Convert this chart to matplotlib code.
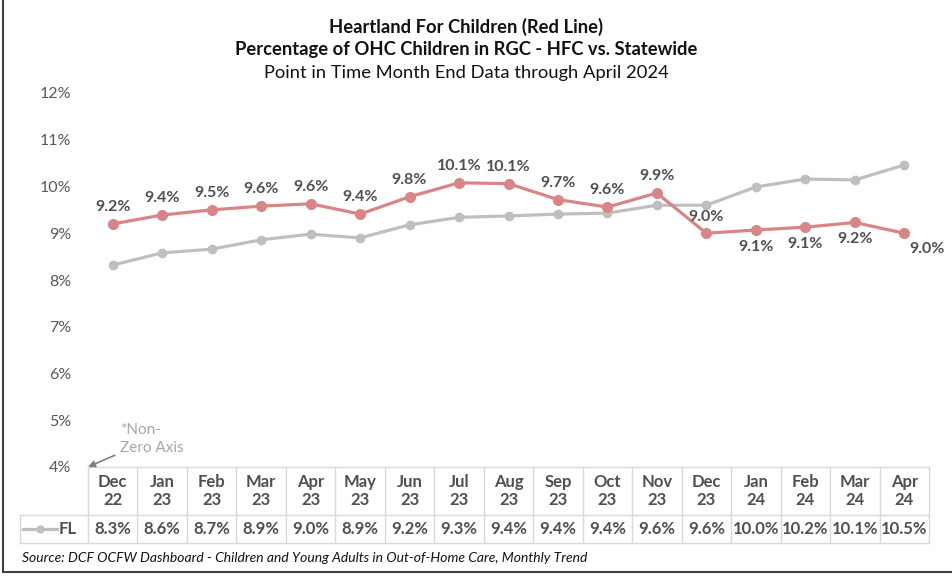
import matplotlib
matplotlib.use("Agg")
import matplotlib.pyplot as plt
from matplotlib.transforms import blended_transform_factory
from matplotlib.lines import Line2D

plt.rcParams["font.family"] = ["Lato", "DejaVu Sans"]

# ---- data ----
months = ["Dec\n22", "Jan\n23", "Feb\n23", "Mar\n23", "Apr\n23", "May\n23", "Jun\n23",
          "Jul\n23", "Aug\n23", "Sep\n23", "Oct\n23", "Nov\n23", "Dec\n23", "Jan\n24",
          "Feb\n24", "Mar\n24", "Apr\n24"]
hfc = [9.20, 9.39, 9.50, 9.58, 9.63, 9.41, 9.78, 10.08, 10.06, 9.72, 9.56, 9.86,
       9.00, 9.07, 9.13, 9.23, 9.00]
fl = [8.32, 8.58, 8.66, 8.86, 8.98, 8.90, 9.18, 9.34, 9.37, 9.41, 9.43, 9.60,
      9.60, 9.99, 10.16, 10.14, 10.46]
# where the HFC label sits relative to its point
label_pos = ["above"] * 13 + ["below", "below", "below", "right"]

RED = "#d98585"
GRAY = "#bfbfbf"
TXT = "#505050"
GRID = "#d9d9d9"

fig = plt.figure(figsize=(9.52, 5.78), dpi=100)
ax = fig.add_axes([88 / 952, 1 - 467 / 578, 841 / 952, 374 / 578])

x = list(range(len(months)))
ax.plot(x, fl, color=GRAY, lw=2.3, marker="o", ms=6, zorder=2)
ax.plot(x, hfc, color=RED, lw=2.3, marker="o", ms=7, zorder=3)

for xi, v, pos in zip(x, hfc, label_pos):
    if pos == "above":
        ax.annotate(f"{v:.1f}%", (xi, v), xytext=(0, 7), textcoords="offset points",
                    ha="center", va="bottom", fontsize=11.5, fontweight="bold", color=TXT)
    elif pos == "below":
        ax.annotate(f"{v:.1f}%", (xi, v), xytext=(0, -7), textcoords="offset points",
                    ha="center", va="top", fontsize=11.5, fontweight="bold", color=TXT)
    else:
        ax.annotate(f"{v:.1f}%", (xi, v), xytext=(4, -6), textcoords="offset points",
                    ha="left", va="top", fontsize=11.5, fontweight="bold", color=TXT)

ax.set_xlim(-0.5, len(months) - 0.5)
ax.set_ylim(4, 12)
ax.set_yticks(range(4, 13))
ax.set_yticklabels([f"{t}%" for t in range(4, 13)])
ax.tick_params(axis="y", length=0, pad=12, labelsize=11.5, labelcolor="#595959")
ax.tick_params(axis="x", length=0, labelbottom=False)
for s in ax.spines.values():
    s.set_visible(False)

# ---- data table under the chart ----
tr = blended_transform_factory(ax.transData, ax.transAxes)
px = 1 / 374  # one pixel in axes fraction (vertical)
y0, y1, y2 = 0, -48 * px, -76 * px
for yy in (y0, y1, y2):
    ax.add_line(Line2D([-0.5, len(months) - 0.5], [yy, yy], transform=tr,
                       color=GRID, lw=1, clip_on=False))
for i in range(len(months) + 1):
    ax.add_line(Line2D([i - 0.5, i - 0.5], [y0, y2], transform=tr,
                       color=GRID, lw=1, clip_on=False))
for i, (m, v) in enumerate(zip(months, fl)):
    ax.text(i, (y0 + y1) / 2, m, transform=tr, ha="center", va="center",
            fontsize=12, fontweight="bold", color=TXT, linespacing=1.2)
    ax.text(i, (y1 + y2) / 2, f"{v:.1f}%", transform=tr, ha="center", va="center",
            fontsize=12, fontweight="bold", color=TXT)

# legend cell on the left of the table
figtr = fig.transFigure
fx = lambda p: p / 952
fy = lambda p: 1 - p / 578
fig.add_artist(Line2D([fx(20), fx(88)], [fy(515), fy(515)], transform=figtr, color=GRID, lw=1))
fig.add_artist(Line2D([fx(20), fx(88)], [fy(543), fy(543)], transform=figtr, color=GRID, lw=1))
fig.add_artist(Line2D([fx(20), fx(20)], [fy(515), fy(543)], transform=figtr, color=GRID, lw=1))
fig.add_artist(Line2D([fx(23), fx(40), fx(57)], [fy(529)] * 3, transform=figtr,
                      color=GRAY, lw=2.3, marker="o", markevery=[1], ms=5))
fig.text(fx(59), fy(529), "FL", ha="left", va="center", fontsize=12,
         fontweight="bold", color=TXT)

# non-zero axis note
ax.annotate("*Non-\nZero Axis", xy=(-0.5, 4), xytext=(0.15, 4.6),
            ha="left", va="center", fontsize=11, color="#a6a6a6", linespacing=1.4,
            arrowprops=dict(arrowstyle="-|>", color="#808080", lw=1.2,
                            shrinkA=2, shrinkB=0, mutation_scale=10),
            annotation_clip=False)

# titles
fig.text(fx(466), fy(27), "Heartland For Children (Red Line)", ha="center", va="center",
         fontsize=13.2, fontweight="bold", color="#111111")
fig.text(fx(466), fy(50), "Percentage of OHC Children in RGC - HFC vs. Statewide",
         ha="center", va="center", fontsize=13.2, fontweight="bold", color="#111111")
fig.text(fx(466), fy(73), "Point in Time Month End Data through April 2024",
         ha="center", va="center", fontsize=13.2, color="#111111")

fig.text(fx(22), fy(558), "Source: DCF OCFW Dashboard - Children and Young Adults in Out-of-Home Care, Monthly Trend",
         ha="left", va="center", fontsize=10, style="italic", color="#111111")

# outer frame (left and bottom edges)
fig.add_artist(Line2D([fx(3), fx(3)], [fy(0), fy(572)], transform=figtr, color="#404040", lw=1.5))
fig.add_artist(Line2D([fx(3), fx(952)], [fy(572), fy(572)], transform=figtr, color="#404040", lw=1.5))

fig.savefig("out.png", dpi=100)
